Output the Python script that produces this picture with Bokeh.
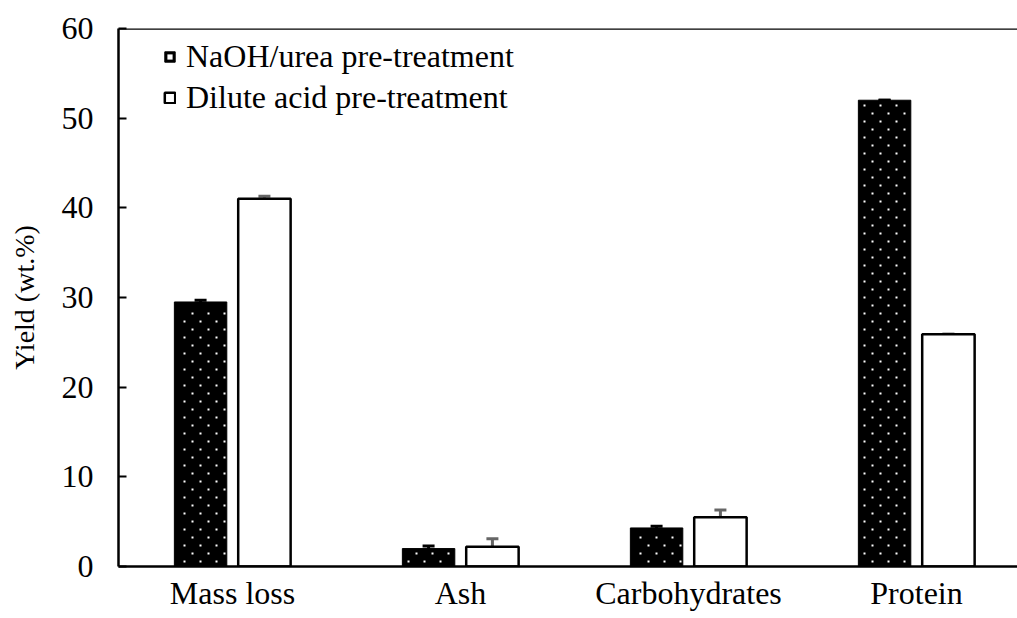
import math
from bokeh.plotting import figure
from bokeh.models import (ColumnDataSource, Whisker, TeeHead, Range1d, FixedTicker,
                          Span, Legend, LegendItem)
from bokeh.embed import file_html
from bokeh.resources import INLINE

# Yield data (wt.%)
categories = ["Mass loss", "Ash", "Carbohydrates", "Protein"]
naoh_urea = [29.5, 2.0, 4.3, 52.0]
naoh_urea_err = [0.2, 0.3, 0.2, 0.0]
dilute_acid = [41.0, 2.2, 5.5, 25.9]
dilute_acid_err = [0.3, 0.9, 0.8, 0.0]
y_ticks = [0, 10, 20, 30, 40, 50, 60]

FONT = "Liberation Serif"

# frame geometry (screen pixels)
FRAME_L, FRAME_R = 118, 1017
FRAME_T, FRAME_B = 28, 566
CAT_PX = 228.0                                  # one category slot
Y_MAX = 60
PX_PER_Y = (FRAME_B - FRAME_T) / Y_MAX

centers = [i + 0.5 for i in range(len(categories))]
offset = 0.14
bar_w = 0.23

src_a = ColumnDataSource(dict(
    x=[c - offset for c in centers], top=naoh_urea,
    lo=[v - e for v, e in zip(naoh_urea, naoh_urea_err)],
    hi=[v + e for v, e in zip(naoh_urea, naoh_urea_err)],
))
src_b = ColumnDataSource(dict(
    x=[c + offset for c in centers], top=dilute_acid,
    lo=[v - e for v, e in zip(dilute_acid, dilute_acid_err)],
    hi=[v + e for v, e in zip(dilute_acid, dilute_acid_err)],
))


def dot_texture(xs, tops, width):
    """Staggered 2px white dot texture laid over each dark bar (16px x 8px lattice)."""
    dx, dy = [], []
    for xc, top in zip(xs, tops):
        left = FRAME_L + (xc - width / 2) * CAT_PX
        right = FRAME_L + (xc + width / 2) * CAT_PX
        top_px = FRAME_B - top * PX_PER_Y
        py = int(math.ceil((top_px + 3) / 8.0)) * 8
        while py <= FRAME_B - 3:
            phase = 7 if py % 16 == 0 else 15
            px = int(math.ceil((left + 2 - phase) / 16.0)) * 16 + phase
            while px + 2 <= right - 1:
                dx.append((px + 1 - FRAME_L) / CAT_PX)
                dy.append((FRAME_B - (py + 1)) / PX_PER_Y)
                px += 16
            py += 8
    return dx, dy


p = figure(width=1017, height=618, output_backend="svg", toolbar_location=None,
           x_range=Range1d(0, (FRAME_R - FRAME_L) / CAT_PX), y_range=Range1d(0, Y_MAX),
           min_border_left=FRAME_L, min_border_right=0, min_border_top=FRAME_T,
           min_border_bottom=618 - FRAME_B)
p.outline_line_color = None
p.background_fill_color = "white"
p.border_fill_color = "white"
p.grid.visible = False

r_a = p.vbar(x="x", top="top", width=bar_w, source=src_a,
             fill_color="black", line_color="black", line_width=1)
dot_x, dot_y = dot_texture(src_a.data["x"], naoh_urea, bar_w)
r_dots = p.scatter(dot_x, dot_y, marker="square", size=2,
                   fill_color="white", line_color=None)
r_b = p.vbar(x="x", top="top", width=bar_w, source=src_b,
             fill_color="white", line_color="black", line_width=2.5)

for src, col in ((src_a, "black"), (src_b, "#666666")):
    w = Whisker(source=src, base="x", upper="hi", lower="lo",
                line_color=col, line_width=3,
                upper_head=TeeHead(size=12, line_color=col, line_width=3),
                lower_head=TeeHead(size=12, line_color=col, line_width=3))
    p.add_layout(w)

# top frame line
p.add_layout(Span(location=Y_MAX, dimension="width", line_color="black", line_width=2.5))

# axes
p.xaxis.ticker = FixedTicker(ticks=centers)
p.xaxis.major_label_overrides = {c: lab for c, lab in zip(centers, categories)}
p.xaxis.major_tick_line_color = None
p.xaxis.minor_tick_line_color = None
p.xaxis.axis_line_width = 2.5
p.xaxis.major_label_text_font = FONT
p.xaxis.major_label_text_font_size = "32px"
p.xaxis.major_label_text_color = "black"
p.xaxis.major_label_standoff = 2

p.yaxis.ticker = FixedTicker(ticks=y_ticks)
p.yaxis.minor_tick_line_color = None
p.yaxis.major_tick_in = 8
p.yaxis.major_tick_out = 0
p.yaxis.major_tick_line_width = 2
p.yaxis.axis_line_width = 2.5
p.yaxis.major_label_text_font = FONT
p.yaxis.major_label_text_font_size = "32px"
p.yaxis.major_label_text_color = "black"
p.yaxis.major_label_standoff = 25
p.yaxis.axis_label = "Yield (wt.%)"
p.yaxis.axis_label_text_font = FONT
p.yaxis.axis_label_text_font_size = "28px"
p.yaxis.axis_label_text_font_style = "normal"
p.yaxis.axis_label_text_color = "black"
p.yaxis.axis_label_standoff = 19

legend = Legend(items=[LegendItem(label="NaOH/urea pre-treatment", renderers=[r_a, r_dots]),
                       LegendItem(label="Dilute acid pre-treatment", renderers=[r_b])],
                location=(45, 450), orientation="vertical",
                glyph_width=13, glyph_height=13, label_height=32, spacing=4,
                label_standoff=10, padding=0, margin=0,
                label_text_font=FONT, label_text_font_size="32px",
                label_text_color="black",
                border_line_color=None, background_fill_alpha=0)
p.add_layout(legend)

open("out.html", "w").write(file_html(p, INLINE))
